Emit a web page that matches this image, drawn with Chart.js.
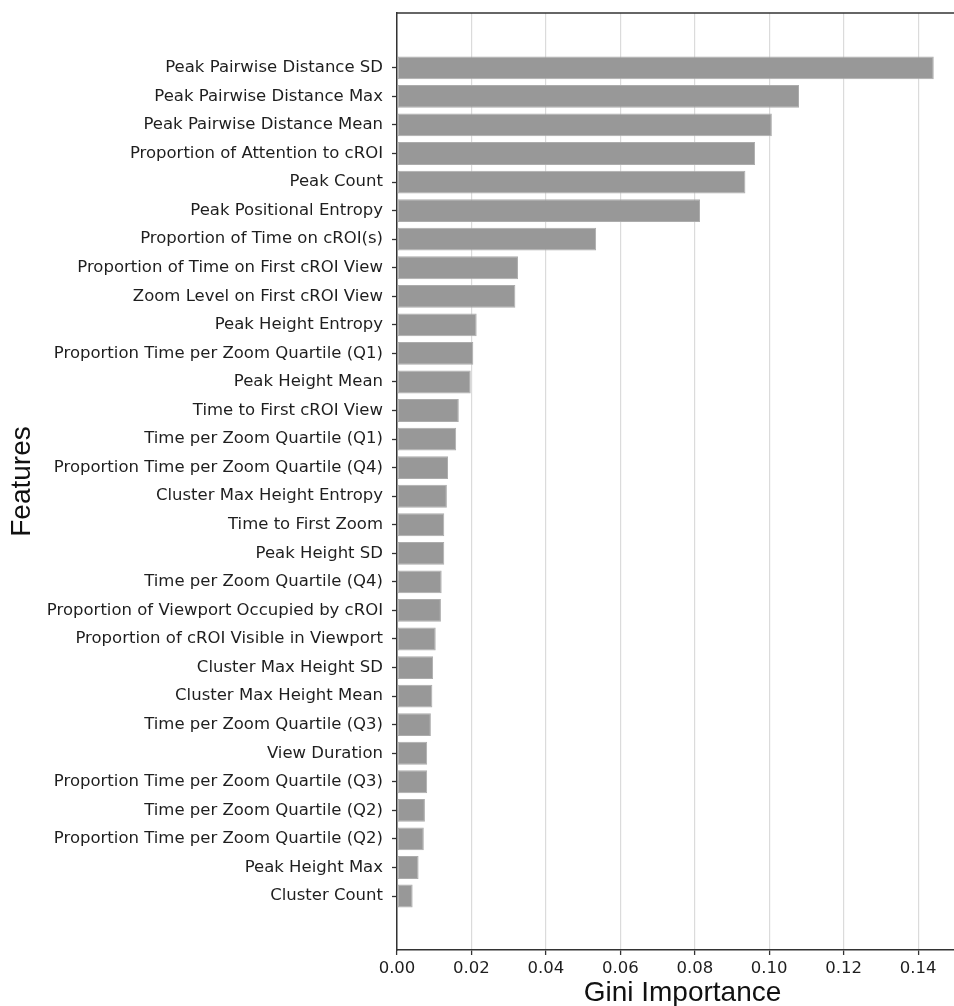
<!DOCTYPE html>
<html>
<head>
<meta charset="utf-8">
<title>Gini Importance</title>
<script src="https://cdn.jsdelivr.net/npm/chart.js@4.4.0/dist/chart.umd.min.js"></script>
<style>
  html, body { margin: 0; padding: 0; overflow: hidden; background: #fff; }
  #wrap { position: relative; width: 968px; height: 1016px; }
</style>
</head>
<body>
<div id="wrap"><canvas id="giniChart"></canvas></div>
<script>
// features, most important first (top of the chart)
const features = [
  'Peak Pairwise Distance SD',
  'Peak Pairwise Distance Max',
  'Peak Pairwise Distance Mean',
  'Proportion of Attention to cROI',
  'Peak Count',
  'Peak Positional Entropy',
  'Proportion of Time on cROI(s)',
  'Proportion of Time on First cROI View',
  'Zoom Level on First cROI View',
  'Peak Height Entropy',
  'Proportion Time per Zoom Quartile (Q1)',
  'Peak Height Mean',
  'Time to First cROI View',
  'Time per Zoom Quartile (Q1)',
  'Proportion Time per Zoom Quartile (Q4)',
  'Cluster Max Height Entropy',
  'Time to First Zoom',
  'Peak Height SD',
  'Time per Zoom Quartile (Q4)',
  'Proportion of Viewport Occupied by cROI',
  'Proportion of cROI Visible in Viewport',
  'Cluster Max Height SD',
  'Cluster Max Height Mean',
  'Time per Zoom Quartile (Q3)',
  'View Duration',
  'Proportion Time per Zoom Quartile (Q3)',
  'Time per Zoom Quartile (Q2)',
  'Proportion Time per Zoom Quartile (Q2)',
  'Peak Height Max',
  'Cluster Count'
];

const importance = [
  0.1442, 0.1080, 0.1007, 0.0962, 0.0936, 0.0814, 0.0535, 0.0325, 0.0318, 0.0214,
  0.0205, 0.0198, 0.0166, 0.0159, 0.0137, 0.0134, 0.0127, 0.0127, 0.0120, 0.0118,
  0.0104, 0.0097, 0.0095, 0.0091, 0.0081, 0.0081, 0.0075, 0.0072, 0.0058, 0.0042
];

const xTicks = [0, 0.02, 0.04, 0.06, 0.08, 0.10, 0.12, 0.14];

const tickFont = { family: 'DejaVu Sans', size: 16.5 };
const titleFont = { family: 'Liberation Sans', size: 28 };
const ink = '#1e1e1e';
const spine = '#333';

// frame line along the top of the plot
const topSpine = {
  id: 'topSpine',
  afterDraw(chart) {
    const { ctx, chartArea } = chart;
    ctx.save();
    ctx.strokeStyle = spine;
    ctx.lineWidth = 1.5;
    ctx.beginPath();
    ctx.moveTo(chartArea.left, chartArea.top);
    ctx.lineTo(chartArea.right, chartArea.top);
    ctx.stroke();
    ctx.restore();
  }
};

new Chart(document.getElementById('giniChart'), {
  type: 'bar',
  data: {
    datasets: [{
      data: importance.map((v, i) => ({ x: v, y: i })),
      backgroundColor: 'rgb(152,152,152)',
      borderColor: 'rgb(172,172,172)',
      borderWidth: 1,
      borderSkipped: false,
      categoryPercentage: 1,
      barPercentage: 0.8
    }]
  },
  options: {
    indexAxis: 'y',
    responsive: true,
    maintainAspectRatio: false,
    devicePixelRatio: 1,
    animation: false,
    layout: { padding: { top: 13, left: 0, right: 0, bottom: 0 } },
    plugins: {
      legend: { display: false },
      tooltip: { enabled: false }
    },
    scales: {
      x: {
        type: 'linear',
        min: 0,
        max: 0.1534,
        z: 1,
        afterBuildTicks: (scale) => { scale.ticks = xTicks.map(v => ({ value: v })); },
        afterFit: (scale) => {
          scale.height = 1016 - 950;
          scale.paddingLeft = 0;
          scale.paddingRight = 0;
        },
        ticks: {
          callback: (v) => Number(v).toFixed(2),
          font: tickFont,
          color: ink,
          padding: 4,
          maxRotation: 0
        },
        grid: {
          color: 'rgba(176,176,176,0.45)',
          lineWidth: 1.2,
          tickColor: spine,
          tickLength: 5,
          tickWidth: 1.3
        },
        border: { color: spine, width: 1.5 },
        title: {
          display: true,
          text: 'Gini Importance',
          font: titleFont,
          color: '#111',
          padding: { top: 0, bottom: 6 }
        }
      },
      y: {
        type: 'linear',
        reverse: true,
        offset: false,
        min: -1.92,
        max: features.length - 1 + 1.89,
        z: 1,
        afterBuildTicks: (scale) => { scale.ticks = features.map((f, i) => ({ value: i })); },
        afterFit: (scale) => {
          scale.width = 397;
          scale.paddingTop = 0;
          scale.paddingBottom = 0;
        },
        ticks: {
          autoSkip: false,
          callback: (v) => features[v],
          font: tickFont,
          color: ink,
          padding: 9
        },
        grid: {
          offset: false,
          drawOnChartArea: false,
          drawTicks: true,
          tickColor: spine,
          tickLength: 5,
          tickWidth: 1.3
        },
        border: { color: spine, width: 1.5 },
        title: {
          display: true,
          text: 'Features',
          font: titleFont,
          color: '#111',
          padding: { top: 5, bottom: 0 }
        }
      }
    }
  },
  plugins: [topSpine]
});
</script>
</body>
</html>
